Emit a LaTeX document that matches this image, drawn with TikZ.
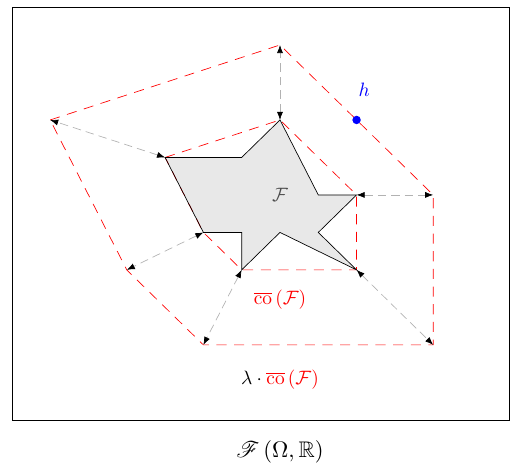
\documentclass[tikz,border=0pt]{standalone}
\usepackage{amsmath, amssymb}
\usepackage{mathrsfs}
\usetikzlibrary{arrows.meta, positioning}
\definecolor{StarGray}{gray}{0.91}

\begin{document}
\begin{tikzpicture}[x=0.8cm, y=0.783cm,
    hull/.style={red, dash pattern=on 6pt off 4.5pt},
    stretch/.style={gray!60, dash pattern=on 5pt off 3pt, {Latex[black]}-{Latex[black]}},
    tag/.style={scale=1.15, transform shape}]
    \useasboundingbox (-7.31,-7.2) rectangle (6.11,5.2);

    % Frame
    \draw (-7,-6) rectangle (6,5);

    % Vertices of F
    \coordinate (s1) at (-3,1);
    \coordinate (s2) at (-1,1);
    \coordinate (s3) at (0,2);
    \coordinate (s4) at (1,0);
    \coordinate (s5) at (2,0);
    \coordinate (s6) at (1,-1);
    \coordinate (s7) at (2,-2);
    \coordinate (s8) at (0,-1);
    \coordinate (s9) at (-1,-2);
    \coordinate (s10) at (-1,-1);
    \coordinate (s11) at (-2,-1);

    % Vertices of the scaled hull
    \coordinate (t1) at (-6,2);
    \coordinate (t3) at (0,4);
    \coordinate (t5) at (4,0);
    \coordinate (t7) at (4,-4);
    \coordinate (t9) at (-2,-4);
    \coordinate (t11) at (-4,-2);

    % Set F
    \fill[StarGray] (s1) -- (s2) -- (s3) -- (s4) -- (s5) -- (s6) -- (s7) -- (s8) -- (s9) -- (s10) -- (s11) -- cycle;

    % Hulls
    \draw[hull] (s1) -- (s3) -- (s5) -- (s7) -- (s9) -- (s11) -- cycle;
    \draw[hull] (t1) -- (t3) -- (t5) -- (t7) -- (t9) -- (t11) -- cycle;

    % Outline of F
    \draw (s1) -- (s2) -- (s3) -- (s4) -- (s5) -- (s6) -- (s7) -- (s8) -- (s9) -- (s10) -- (s11) -- cycle;

    % Scaling arrows
    \draw[stretch] (s1) -- (t1);
    \draw[stretch] (s3) -- (t3);
    \draw[stretch] (s5) -- (t5);
    \draw[stretch] (s7) -- (t7);
    \draw[stretch] (s9) -- (t9);
    \draw[stretch] (s11) -- (t11);

    % Point h
    \node[circle, fill=blue, inner sep=0pt, minimum size=5pt] (hdot) at (2,2) {};
    \node[tag, blue, above=0.25cm of hdot, xshift=4pt] (hlabel) {$h$};

    % Labels
    \node[tag, black!70] (starlabel) at (0,0) {$\mathcal{F}$};
    \node[tag, red] (hulllabel) at (0,-2.8) {$\overline{\mathrm{co}}\,(\mathcal{F})$};
    \node[tag] (scaledlabel) at (0,-4.93) {$\lambda\cdot\textcolor{red}{\overline{\mathrm{co}}\,(\mathcal{F})}$};
    \node[scale=1.34, transform shape] (spacelabel) at (0,-6.85) {$\mathscr{F}\,(\Omega,\mathbb{R})$};
\end{tikzpicture}
\end{document}
